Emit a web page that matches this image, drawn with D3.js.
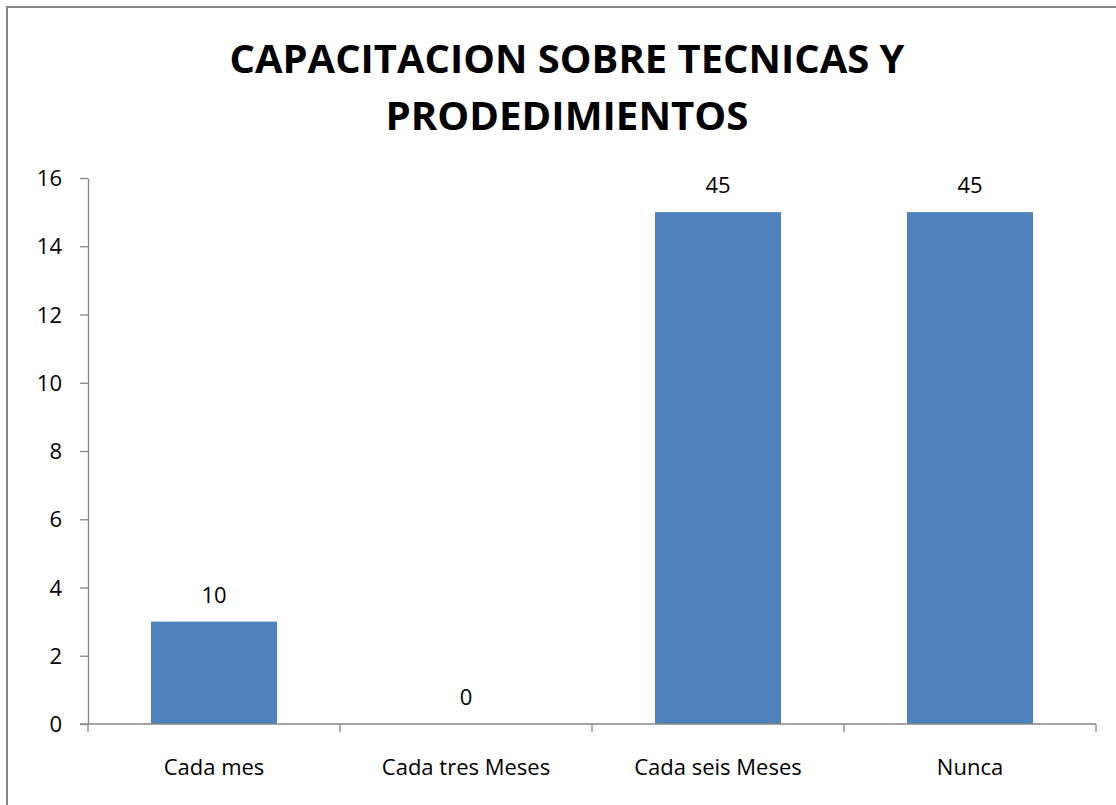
<!doctype html>
<html lang="es">
<head>
    <meta charset="utf-8">
    <script src="https://d3js.org/d3.v7.min.js"></script>
    <style type="text/css">
        body {
            padding: 0;
            margin: 0;
            background: #fff;
        }
        text {
            font-family: "Open Sans", "Noto Sans", sans-serif;
            fill: #000;
        }
        .axis path, .axis line {
            stroke: #868686;
            stroke-width: 1.3px;
        }
    </style>
</head>
<body>
<div id="chart"></div>
<script type="text/javascript">

    // datos del grafico
    var categorias = ["Cada mes", "Cada tres Meses", "Cada seis Meses", "Nunca"];
    var valores = [3, 0, 15, 15];
    var etiquetas = ["10", "0", "45", "45"];
    var yTicks = [0, 2, 4, 6, 8, 10, 12, 14, 16];
    var titulo = ["CAPACITACION SOBRE TECNICAS Y", "PRODEDIMIENTOS"];

    var width = 1116,
        height = 805;

    var margin = { left: 88, right: 20, top: 178, bottom: 81 };

    var svg = d3.select("#chart").append("svg")
        .attr("width", width)
        .attr("height", height);

    // marco del grafico (sale del recorte a la derecha y abajo)
    svg.append("rect")
        .attr("x", 7)
        .attr("y", 7)
        .attr("width", width + 20)
        .attr("height", height + 20)
        .attr("fill", "none")
        .attr("stroke", "#868686")
        .attr("stroke-width", 2);

    // titulo
    var tw = [675, 363];
    svg.selectAll("text.title")
        .data(titulo)
        .enter().append("text")
        .attr("class", "title")
        .attr("x", 567)
        .attr("y", function (d, i) { return 73 + i * 57; })
        .attr("text-anchor", "middle")
        .attr("font-size", 40)
        .attr("font-weight", "bold")
        .attr("textLength", function (d, i) { return tw[i]; })
        .attr("lengthAdjust", "spacingAndGlyphs")
        .text(function (d) { return d; });

    var x = d3.scaleBand()
        .domain(categorias)
        .range([margin.left, 1096])
        .paddingInner(0.5)
        .paddingOuter(0.25);

    var y = d3.scaleLinear()
        .domain([0, 16])
        .range([724, margin.top]);

    // eje y
    var yAxis = svg.append("g")
        .attr("class", "axis")
        .attr("transform", "translate(" + margin.left + ",0)")
        .call(d3.axisLeft(y).tickValues(yTicks).tickSize(8).tickSizeOuter(0).tickPadding(18));
    yAxis.selectAll("text")
        .attr("font-size", 22)
        .attr("fill", "#000")
        .attr("dy", "0.35em");

    // barras
    svg.selectAll("rect.bar")
        .data(valores)
        .enter().append("rect")
        .attr("class", "bar")
        .attr("x", function (d, i) { return x(categorias[i]); })
        .attr("y", function (d) { return y(d); })
        .attr("width", x.bandwidth())
        .attr("height", function (d) { return y(0) - y(d); })
        .attr("fill", "#4F81BD");

    // eje x
    var band = (1096 - margin.left) / categorias.length;
    var xAxis = svg.append("g")
        .attr("class", "axis")
        .attr("transform", "translate(0," + y(0) + ")");
    xAxis.append("line")
        .attr("x1", margin.left - 8)
        .attr("x2", 1096)
        .attr("y1", 0)
        .attr("y2", 0);
    xAxis.selectAll("line.tick")
        .data(d3.range(categorias.length + 1))
        .enter().append("line")
        .attr("class", "tick")
        .attr("x1", function (d) { return margin.left + d * band; })
        .attr("x2", function (d) { return margin.left + d * band; })
        .attr("y1", 0)
        .attr("y2", 8);
    xAxis.selectAll("text")
        .data(categorias)
        .enter().append("text")
        .attr("x", function (d) { return x(d) + x.bandwidth() / 2; })
        .attr("y", 51)
        .attr("text-anchor", "middle")
        .attr("font-size", 22)
        .text(function (d) { return d; });

    // etiquetas de datos
    svg.selectAll("text.label")
        .data(valores)
        .enter().append("text")
        .attr("class", "label")
        .attr("x", function (d, i) { return x(categorias[i]) + x.bandwidth() / 2; })
        .attr("y", function (d) { return y(d) - 19; })
        .attr("text-anchor", "middle")
        .attr("font-size", 22)
        .text(function (d, i) { return etiquetas[i]; });

</script>
</body>
</html>
